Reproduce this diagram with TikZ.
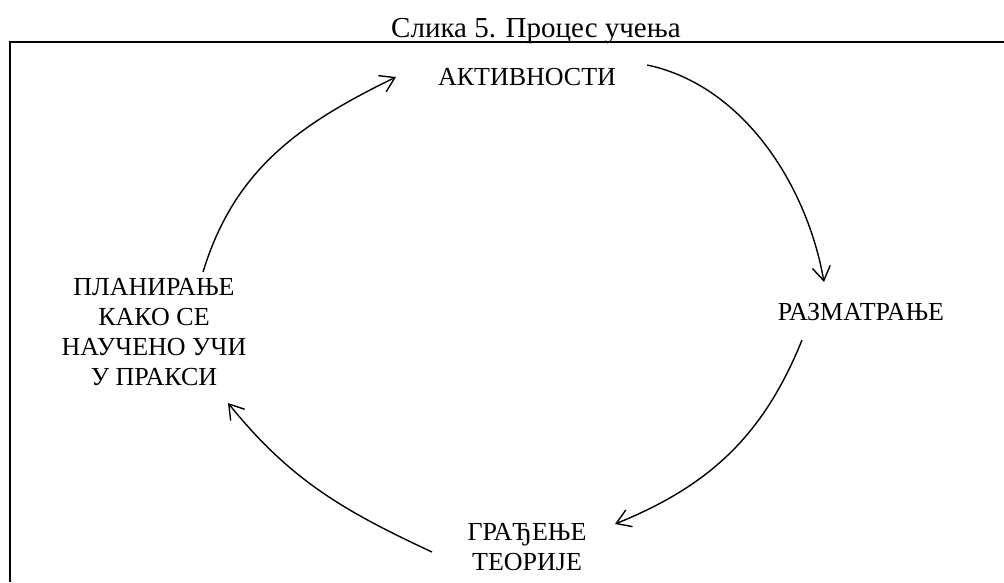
\documentclass[tikz,border=0pt]{standalone}
\usepackage{fontspec}
\setmainfont{Liberation Serif}
\usetikzlibrary{arrows.meta}
\begin{document}
\begin{tikzpicture}[x=1pt,y=-1pt,
  lbl/.style={font=\fontsize{26}{30}\selectfont, inner sep=0pt, anchor=base, align=center},
  cyc/.style={line width=1.4pt, -{Straight Barb[length=14pt,width=18pt,line width=1.4pt]}}]
\useasboundingbox (0,0) rectangle (1004,582);
% caption and the open frame below it
\node[lbl, font=\fontsize{29}{33}\selectfont, anchor=base west] (title) at (391,37) {Слика 5. Процес учења};
\draw[line width=2.6pt] (10,42) -- (1004,42);
\draw[line width=1.8pt] (10,41) -- (10,582);
% stages of the cycle (base = baseline of the last line)
\node[lbl] (akt)  at (527,85)  {АКТИВНОСТИ};
\node[lbl] (razm) at (861,320) {РАЗМАТРАЊЕ};
\node[lbl] (grad) at (527,570) {ГРАЂЕЊЕ\\ТЕОРИЈЕ};
\node[lbl] (plan) at (154,385) {ПЛАНИРАЊЕ\\КАКО СЕ\\НАУЧЕНО УЧИ\\У ПРАКСИ};
% arrows between stages (out/in angles measured on the page, counter-clockwise)
\draw[cyc] ([shift={(31,-20)}]akt.base east) to[out=-12,in=100,looseness=0.9] ([shift={(-37,-38)}]razm.base);
\draw[cyc] ([shift={(-59,20)}]razm.base) to[out=-112,in=22] ([shift={(88,-46)}]grad.base);
\draw[cyc] ([shift={(-95,-18)}]grad.base) to[out=155,in=-51] ([shift={(74,18)}]plan.base);
\draw[cyc] ([shift={(49,-113)}]plan.base) to[out=73,in=-154] ([shift={(-131,-8)}]akt.base);
\end{tikzpicture}
\end{document}
